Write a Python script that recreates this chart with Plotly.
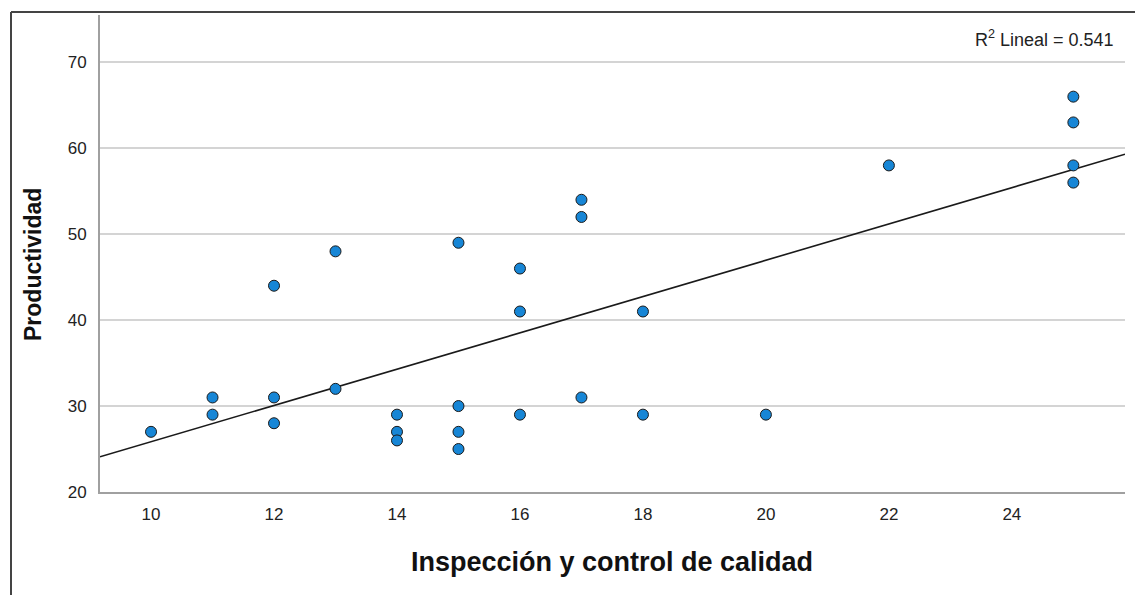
import numpy as np
import plotly.graph_objects as go

# Data
inspeccion = [10, 11, 11, 12, 12, 12, 13, 13, 14, 14, 14, 15, 15, 15, 15,
              16, 16, 16, 17, 17, 17, 18, 18, 20, 22, 25, 25, 25, 25]
productividad = [27, 31, 29, 44, 31, 28, 48, 32, 29, 27, 26, 49, 30, 27, 25,
                 46, 41, 29, 54, 52, 31, 41, 29, 29, 58, 66, 63, 58, 56]
x_ticks = [10, 12, 14, 16, 18, 20, 22, 24]
y_ticks = [20, 30, 40, 50, 60, 70]
r2_text = "R<sup>2</sup> Lineal = 0.541"

x_range = [9.17, 25.84]
y_range = [20, 75.5]

slope, intercept = np.polyfit(inspeccion, productividad, 1)
fit_x = np.array(x_range)
fit_y = slope * fit_x + intercept

FONT = "Liberation Sans, Arial, sans-serif"

fig = go.Figure()
fig.add_trace(go.Scatter(
    x=fit_x, y=fit_y, mode="lines",
    line=dict(color="#1a1a1a", width=1.6),
    showlegend=False, hoverinfo="skip"))
fig.add_trace(go.Scatter(
    x=inspeccion, y=productividad, mode="markers",
    marker=dict(size=11, color="#1786d6", line=dict(color="#1a1a1a", width=1)),
    showlegend=False))

W, H = 1135, 595
ml, mr, mt, mb = 100, 10, 15, 103
pw, ph = W - ml - mr, H - mt - mb

def px_x(p):
    return (p - ml) / pw

def px_y(p):
    return (H - mb - p) / ph

fig.update_layout(
    width=W, height=H,
    margin=dict(l=ml, r=mr, t=mt, b=mb),
    paper_bgcolor="white", plot_bgcolor="white",
    font=dict(family=FONT, color="#222222", size=17),
    xaxis=dict(range=x_range, tickvals=x_ticks, showgrid=False, zeroline=False,
               showline=True, linecolor="#a0a0a0", linewidth=2,
               ticks="", ticklabelstandoff=6,
               tickfont=dict(size=17, color="#222222")),
    yaxis=dict(range=y_range, tickvals=y_ticks, showgrid=True,
               gridcolor="#d4d4d4", gridwidth=1.5, zeroline=False,
               showline=True, linecolor="#a0a0a0", linewidth=2,
               ticks="", ticklabelstandoff=8,
               tickfont=dict(size=17, color="#222222")),
    annotations=[
        dict(text=r2_text, xref="paper", yref="paper",
             x=px_x(1116), y=px_y(39), xanchor="right", yanchor="middle",
             showarrow=False, font=dict(size=18, color="#222222")),
        dict(text="<b>Inspección y control de calidad</b>", xref="paper", yref="paper",
             x=px_x(611.5), y=px_y(562), xanchor="center", yanchor="middle",
             showarrow=False, font=dict(size=27, color="#111111")),
        dict(text="<b>Productividad</b>", xref="paper", yref="paper",
             x=px_x(33), y=px_y(265), xanchor="center", yanchor="middle",
             textangle=-90, showarrow=False, font=dict(size=23, color="#111111")),
    ],
    shapes=[
        dict(type="line", xref="paper", yref="paper",
             x0=px_x(11), x1=px_x(1135), y0=px_y(12), y1=px_y(12),
             line=dict(color="#444444", width=2)),
        dict(type="line", xref="paper", yref="paper",
             x0=px_x(11), x1=px_x(11), y0=px_y(12), y1=px_y(595),
             line=dict(color="#444444", width=2)),
    ],
)

fig.write_html("out.html")
